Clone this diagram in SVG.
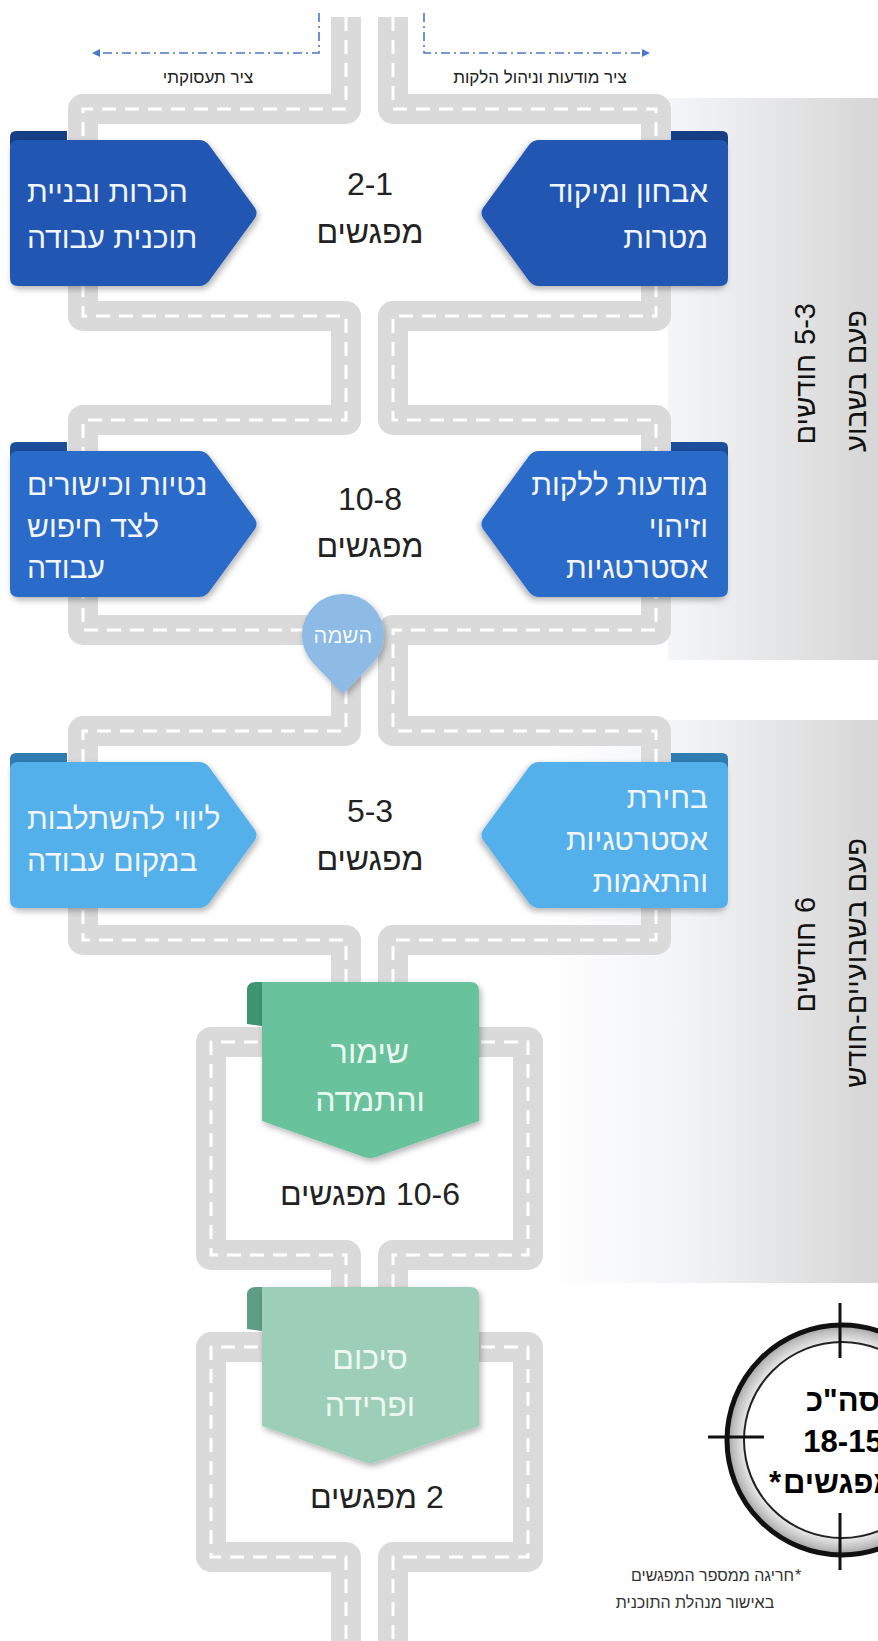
<svg xmlns="http://www.w3.org/2000/svg" xmlns:xlink="http://www.w3.org/1999/xlink" width="878" height="1641" viewBox="0 0 878 1641">
  <defs>
    <style>
      .he { font-family: "Liberation Sans", "DejaVu Sans", sans-serif; }
      .boxtxt { font-size: 30px; fill: #f3f5ff; }
      .mid { font-size: 32px; fill: #222; }
      .ribtxt { font-size: 32px; fill: #eef8f2; }
      .sidetxt { font-size: 29px; fill: #111; }
      .road { fill: none; stroke: #dadada; stroke-width: 30; stroke-linejoin: round; }
      .lane { fill: none; stroke: #ffffff; stroke-width: 3; stroke-dasharray: 14 9; stroke-linejoin: miter; }
      .axis { fill: none; stroke: #4a78c8; stroke-width: 1.6; stroke-dasharray: 9 4 2 4; }
      .total { font-size: 31px; font-weight: bold; fill: #000; }
    </style>
    <linearGradient id="panelGrad" gradientUnits="userSpaceOnUse" x1="540" y1="0" x2="878" y2="0">
      <stop offset="0" stop-color="#ffffff"/>
      <stop offset="0.4" stop-color="#f4f5f8"/>
      <stop offset="1" stop-color="#d6d6d6"/>
    </linearGradient>
    <radialGradient id="ringShade" cx="0.5" cy="0.5" r="0.5">
      <stop offset="0.75" stop-color="#ffffff"/>
      <stop offset="0.86" stop-color="#e6e6e6"/>
      <stop offset="0.95" stop-color="#bdbdbd"/>
      <stop offset="1" stop-color="#9a9a9a"/>
    </radialGradient>
    <filter id="shadow" x="-15%" y="-15%" width="135%" height="135%">
      <feDropShadow dx="2" dy="3" stdDeviation="3" flood-color="#000" flood-opacity="0.3"/>
    </filter>
    <marker id="arrowHead" viewBox="0 0 10 10" refX="5" refY="5" markerWidth="8" markerHeight="8" orient="auto-start-reverse" markerUnits="userSpaceOnUse">
      <path d="M0,0 L10,5 L0,10 Z" fill="#4a78c8"/>
    </marker>
    <!-- arrow-shaped card pointing right, body top at y=0 -->
    <path id="cardR" d="M10,8 Q10,0 18,0 L199,0 Q205,0 209,5 L255,68 Q258,73 255,78 L209,141 Q205,146 199,146 L18,146 Q10,146 10,138 Z"/>
    <path id="cardTab" d="M10,6 L10,-3 Q10,-9 16,-9 L67,-9 L67,6 Z"/>
    <!-- ribbon card pointing down -->
    <path id="ribbon" d="M262,0 L470,0 Q479,0 479,9 L479,139 L376,175 Q370,177 364,175 L262,139 Z"/>
    <path id="ribbonFold" d="M247,42 L247,8 Q247,0 256,0 L262,0 L262,44 Z"/>
  </defs>

  <rect width="878" height="1641" fill="#ffffff"/>

  <!-- side panels; rotated labels read bottom-to-top -->
  <g id="panel-weekly">
    <rect x="668" y="98" width="210" height="562" fill="url(#panelGrad)"/>
    <g transform="translate(815,381) rotate(-90)">
      <text class="he sidetxt" x="27" y="0" text-anchor="end">חודשים</text>
      <text class="he sidetxt" x="36" y="0">5-3</text>
    </g>
    <text class="he sidetxt" transform="translate(866,381) rotate(-90)" text-anchor="middle">פעם בשבוע</text>
  </g>
  <g id="panel-biweekly">
    <rect x="540" y="720" width="338" height="563" fill="url(#panelGrad)"/>
    <g transform="translate(815,964) rotate(-90)">
      <text class="he sidetxt" x="42" y="0" text-anchor="end">חודשים</text>
      <text class="he sidetxt" x="51" y="0">6</text>
    </g>
    <text class="he sidetxt" transform="translate(866,963) rotate(-90)" text-anchor="middle">פעם בשבועיים-חודש</text>
  </g>

  <!-- roads and axis connectors -->
  <g id="connectors">
    <path class="road" d="M346,17 V109 H83 V316 H346 V420 H83 V630 H346 V731 H83 V940 H346 V1042 H211 V1255 H346 V1347 H211 V1557 H346 V1641"/>
    <path class="road" d="M393,17 V109 H656 V316 H393 V420 H656 V630 H393 V731 H656 V940 H393 V1042 H528 V1255 H393 V1347 H528 V1557 H393 V1641"/>
    <path class="lane" d="M346,17 V109 H83 V316 H346 V420 H83 V630 H346 V731 H83 V940 H346 V1042 H211 V1255 H346 V1347 H211 V1557 H346 V1641"/>
    <path class="lane" d="M393,17 V109 H656 V316 H393 V420 H656 V630 H393 V731 H656 V940 H393 V1042 H528 V1255 H393 V1347 H528 V1557 H393 V1641"/>
    <path class="axis" d="M319,13 V53 H96" marker-end="url(#arrowHead)"/>
    <path class="axis" d="M424,13 V53 H646" marker-end="url(#arrowHead)"/>
  </g>

  <g id="axis-labels">
    <text class="he" x="208" y="83" font-size="17" fill="#222" text-anchor="middle">ציר תעסוקתי</text>
    <text class="he" x="540" y="83" font-size="17" fill="#222" text-anchor="middle">ציר מודעות וניהול הלקות</text>
  </g>

  <!-- row 1 -->
  <g id="step-diagnosis">
    <use xlink:href="#cardTab" transform="matrix(-1 0 0 1 738 140)" fill="#173f86"/>
    <use xlink:href="#cardR" transform="matrix(-1 0 0 1 738 140)" fill="#2256b3" filter="url(#shadow)"/>
    <text class="he boxtxt" x="708" y="202" text-anchor="end" font-size="32">אבחון ומיקוד</text>
    <text class="he boxtxt" x="708" y="248" text-anchor="end" font-size="32">מטרות</text>
  </g>
  <g id="step-intro">
    <use xlink:href="#cardTab" transform="translate(0,140)" fill="#173f86"/>
    <use xlink:href="#cardR" transform="translate(0,140)" fill="#2256b3" filter="url(#shadow)"/>
    <text class="he boxtxt" x="27" y="202" font-size="33">הכרות ובניית</text>
    <text class="he boxtxt" x="27" y="248" font-size="33">תוכנית עבודה</text>
  </g>
  <g id="meetings-1">
    <text class="he mid" x="370" y="195" text-anchor="middle">2-1</text>
    <text class="he mid" x="370" y="243" text-anchor="middle">מפגשים</text>
  </g>

  <!-- row 2 -->
  <g id="step-awareness">
    <use xlink:href="#cardTab" transform="matrix(-1 0 0 1 738 451)" fill="#1c4e9c"/>
    <use xlink:href="#cardR" transform="matrix(-1 0 0 1 738 451)" fill="#2a6ac8" filter="url(#shadow)"/>
    <text class="he boxtxt" x="708" y="495" text-anchor="end">מודעות ללקות</text>
    <text class="he boxtxt" x="708" y="537" text-anchor="end">וזיהוי</text>
    <text class="he boxtxt" x="708" y="578" text-anchor="end">אסטרטגיות</text>
  </g>
  <g id="step-skills">
    <use xlink:href="#cardTab" transform="translate(0,451)" fill="#1c4e9c"/>
    <use xlink:href="#cardR" transform="translate(0,451)" fill="#2a6ac8" filter="url(#shadow)"/>
    <text class="he boxtxt" x="27" y="495">נטיות וכישורים</text>
    <text class="he boxtxt" x="27" y="537">לצד חיפוש</text>
    <text class="he boxtxt" x="27" y="578">עבודה</text>
  </g>
  <g id="meetings-2">
    <text class="he mid" x="370" y="510" text-anchor="middle">10-8</text>
    <text class="he mid" x="370" y="557" text-anchor="middle">מפגשים</text>
  </g>

  <!-- placement pin -->
  <g id="placement" filter="url(#shadow)">
    <path d="M343,694 L314,664 A41,41 0 1 1 372,664 Z" fill="#8dbbe5"/>
    <text class="he" x="343" y="643" font-size="22" fill="#f5f9ff" text-anchor="middle">השמה</text>
  </g>

  <!-- row 3 -->
  <g id="step-strategies">
    <use xlink:href="#cardTab" transform="matrix(-1 0 0 1 738 762)" fill="#2f7cb3"/>
    <use xlink:href="#cardR" transform="matrix(-1 0 0 1 738 762)" fill="#52b0ea" filter="url(#shadow)"/>
    <text class="he boxtxt" x="708" y="808" text-anchor="end">בחירת</text>
    <text class="he boxtxt" x="708" y="850" text-anchor="end">אסטרטגיות</text>
    <text class="he boxtxt" x="708" y="892" text-anchor="end">והתאמות</text>
  </g>
  <g id="step-integration">
    <use xlink:href="#cardTab" transform="translate(0,762)" fill="#2f7cb3"/>
    <use xlink:href="#cardR" transform="translate(0,762)" fill="#52b0ea" filter="url(#shadow)"/>
    <text class="he boxtxt" x="27" y="829">ליווי להשתלבות</text>
    <text class="he boxtxt" x="27" y="871">במקום עבודה</text>
  </g>
  <g id="meetings-3">
    <text class="he mid" x="370" y="822" text-anchor="middle">5-3</text>
    <text class="he mid" x="370" y="870" text-anchor="middle">מפגשים</text>
  </g>

  <!-- row 4 -->
  <g id="step-retention">
    <use xlink:href="#ribbonFold" transform="translate(0,982)" fill="#3f9572"/>
    <use xlink:href="#ribbon" transform="translate(0,982)" fill="#67c29b" filter="url(#shadow)"/>
    <text class="he ribtxt" x="370" y="1063" text-anchor="middle">שימור</text>
    <text class="he ribtxt" x="370" y="1111" text-anchor="middle">והתמדה</text>
  </g>
  <g id="meetings-4">
    <text class="he mid" x="387" y="1205" text-anchor="end">מפגשים</text>
    <text class="he mid" x="396" y="1205" text-anchor="start">10-6</text>
  </g>

  <!-- row 5 -->
  <g id="step-closing">
    <use xlink:href="#ribbonFold" transform="translate(0,1287)" fill="#5f9e85"/>
    <use xlink:href="#ribbon" transform="translate(0,1287)" fill="#9dcfb8" filter="url(#shadow)"/>
    <text class="he ribtxt" x="370" y="1369" text-anchor="middle">סיכום</text>
    <text class="he ribtxt" x="370" y="1416" text-anchor="middle">ופרידה</text>
  </g>
  <g id="meetings-5">
    <text class="he mid" x="417" y="1508" text-anchor="end">מפגשים</text>
    <text class="he mid" x="426" y="1508" text-anchor="start">2</text>
  </g>

  <!-- total target -->
  <g id="total">
    <circle cx="842" cy="1440" r="115" fill="url(#ringShade)"/>
    <circle cx="842" cy="1440" r="115" fill="none" stroke="#111" stroke-width="5"/>
    <circle cx="842" cy="1440" r="98" fill="#ffffff" stroke="#222" stroke-width="2"/>
    <path d="M840,1303 V1358 M840,1513 V1570 M708,1437 H764" stroke="#111" stroke-width="3" fill="none"/>
    <text class="he total" x="843" y="1411" text-anchor="middle">סה"כ</text>
    <text class="he total" x="843" y="1452" text-anchor="middle">18-15</text>
    <text class="he total" x="769" y="1493">*</text>
    <text class="he total" x="783" y="1493">מפגשים</text>
  </g>
  <g id="footnote">
    <text class="he" x="794" y="1581" font-size="16" fill="#333" text-anchor="end">חריגה ממספר המפגשים</text>
    <text class="he" x="795" y="1581" font-size="16" fill="#333">*</text>
    <text class="he" x="695" y="1608" font-size="16" fill="#333" text-anchor="middle">באישור מנהלת התוכנית</text>
  </g>
</svg>
